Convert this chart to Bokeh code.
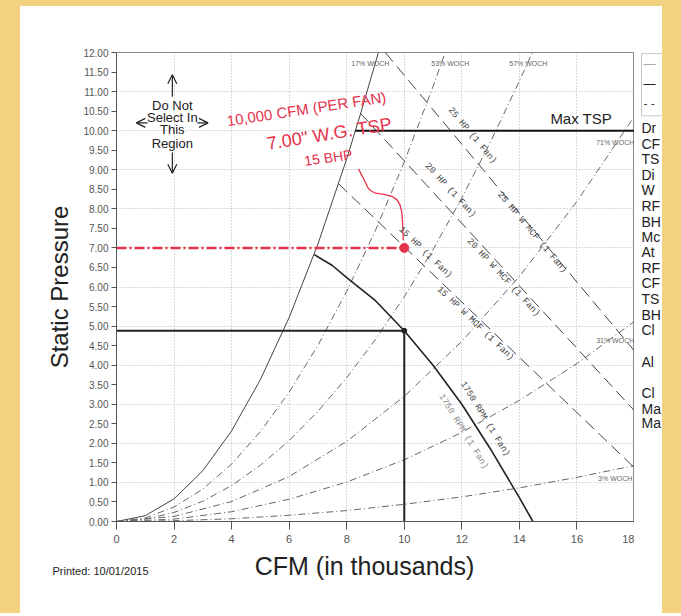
from bokeh.plotting import figure
from bokeh.models import (Range1d, FixedTicker, NumeralTickFormatter, Label, Arrow,
                          OpenHead, BoxAnnotation)
from bokeh.layouts import column, row
from bokeh.embed import file_html
from bokeh.resources import INLINE

# ---------------- data ----------------
x_ticks = [0, 2, 4, 6, 8, 10, 12, 14, 16, 18]
y_ticks = [0.0, 0.5, 1.0, 1.5, 2.0, 2.5, 3.0, 3.5, 4.0, 4.5, 5.0, 5.5, 6.0,
           6.5, 7.0, 7.5, 8.0, 8.5, 9.0, 9.5, 10.0, 10.5, 11.0, 11.5, 12.0]
x_grid = [2, 4, 6, 8, 10, 12, 14, 16]
y_grid = [1, 2, 3, 4, 5, 6, 7, 8, 9, 10, 11]

# system curves (through the origin)
sys1_cfm = [0, 1, 2, 3, 4, 5, 6, 7, 8, 8.5, 9.1]
sys1_sp = [0, 0.15, 0.58, 1.30, 2.32, 3.63, 5.22, 7.10, 9.28, 10.48, 12.0]
sys2_cfm = [0, 1, 2, 3, 4, 5, 6, 7, 8, 9, 10, 11, 11.42]
sys2_sp = [0, 0.09, 0.37, 0.83, 1.47, 2.30, 3.31, 4.51, 5.89, 7.45, 9.20, 11.13, 12.0]
sys3_cfm = [0, 1, 2, 3, 4, 5, 6, 7, 8, 9, 10, 11, 12, 13, 14, 14.45]
sys3_sp = [0, 0.06, 0.23, 0.52, 0.92, 1.44, 2.07, 2.82, 3.68, 4.66, 5.75, 6.96,
           8.28, 9.72, 11.27, 12.0]
sys4_cfm = [0, 2, 4, 6, 8, 10, 12, 14, 16, 18]
sys4_sp = [0, 0.13, 0.51, 1.15, 2.05, 3.20, 4.61, 6.27, 8.19, 10.37]
sys5_cfm = [0, 2, 4, 6, 8, 10, 12, 14, 16, 18]
sys5_sp = [0, 0.06, 0.25, 0.57, 1.01, 1.58, 2.28, 3.10, 4.04, 5.12]
sys6_cfm = [0, 2, 4, 6, 8, 10, 12, 14, 16, 18]
sys6_sp = [0, 0.02, 0.07, 0.16, 0.28, 0.44, 0.63, 0.86, 1.13, 1.43]
sys_labels = ["17% WOCH", "53% WOCH", "57% WOCH", "71% WOCH", "31% WOCH", "3% WOCH"]
sys_label_cfm = [8.82, 11.60, 14.31, 17.33, 17.33, 17.33]
sys_label_sp = [11.72, 11.72, 11.72, 9.69, 4.63, 1.10]

# fan curve 1750 RPM
fan_cfm = [6.87, 7.5, 8.0, 9.0, 10.0, 11.0, 12.0, 13.0, 14.0, 14.47]
fan_sp = [6.83, 6.55, 6.24, 5.65, 4.88, 4.00, 3.00, 1.85, 0.61, 0.0]

# brake horsepower lines
hp25_cfm = [9.34, 17.99]
hp25_sp = [12.0, 4.37]
hp20_cfm = [8.47, 17.99]
hp20_sp = [10.45, 2.84]
hp15_cfm = [7.72, 17.99]
hp15_sp = [8.64, 1.38]
hp_labels = ["25 HP (1 Fan)", "20 HP (1 Fan)", "15 HP (1 Fan)",
             "25 HP W MCF (1 Fan)", "20 HP W MCF (1 Fan)", "15 HP W MCF (1 Fan)"]
hp_label_cfm = [12.36, 11.60, 10.73, 14.44, 13.44, 12.47]
hp_label_sp = [9.87, 8.47, 6.88, 7.39, 6.24, 5.06]

# operating / selected points
op_cfm = 10.0
op_sp = 4.88
sel_cfm = 10.0
sel_sp = 7.0
max_tsp = 10.0
max_tsp_from = 8.3

# red hand-drawn squiggle
squig_cfm = [8.41, 8.53, 8.65, 8.73, 8.82, 9.00, 9.29, 9.57, 9.75, 9.86, 9.92, 9.94, 9.96, 9.96]
squig_sp = [9.02, 8.85, 8.68, 8.55, 8.47, 8.40, 8.37, 8.32, 8.23, 8.09, 7.88, 7.62, 7.32, 7.19]

# cut-off legend texts at the right edge of the sheet
side_texts = ["Dr", "CF", "TS", "Di", "W", "RF", "BH", "Mc", "At", "RF", "CF", "TS",
              "BH", "Cl", "Al", "Cl", "Ma", "Ma"]
side_sp = [10.07, 9.67, 9.27, 8.87, 8.47, 8.07, 7.67, 7.29, 6.89, 6.49, 6.09, 5.69,
           5.29, 4.89, 4.07, 3.30, 2.89, 2.51]

narrow = "Liberation Sans Narrow, Liberation Sans, sans-serif"
red = "#E5324B"

# ---------------- main figure ----------------
p = figure(width=614, height=545, output_backend="svg", toolbar_location=None,
           x_range=Range1d(0, 18), y_range=Range1d(0, 12),
           min_border_left=96, min_border_right=0, min_border_top=46,
           min_border_bottom=30)
p.background_fill_color = "white"
p.border_fill_color = "white"
p.outline_line_color = "#8a8a8a"
p.outline_line_width = 1

p.xaxis.ticker = FixedTicker(ticks=x_ticks)
p.yaxis.ticker = FixedTicker(ticks=y_ticks)
p.yaxis.formatter = NumeralTickFormatter(format="0.00")
for ax in (p.xaxis[0], p.yaxis[0]):
    ax.axis_line_color = "#555555"
    ax.major_tick_line_color = "#555555"
    ax.minor_tick_line_color = None
    ax.major_tick_in = 0
    ax.major_label_text_font = narrow
    ax.major_label_text_color = "#555555"
    ax.axis_label_text_font = "Liberation Sans"
    ax.axis_label_text_font_style = "normal"
    ax.axis_label_text_font_size = "24px"
    ax.axis_label_text_color = "#222222"
p.xaxis.major_tick_out = 8
p.xaxis.major_label_text_font_size = "11px"
p.xaxis.major_label_standoff = 5
p.yaxis.major_tick_out = 5
p.yaxis.major_label_text_font_size = "10px"
p.yaxis.major_label_standoff = 3
p.yaxis.axis_label = "Static Pressure"
p.yaxis.axis_label_standoff = 7

p.xgrid.ticker = FixedTicker(ticks=x_grid)
p.ygrid.ticker = FixedTicker(ticks=y_grid)
for g in (p.xgrid[0], p.ygrid[0]):
    g.grid_line_color = "#b5b5b5"
    g.grid_line_dash = "1 2"
    g.grid_line_width = 1

# system curves
p.line(sys1_cfm, sys1_sp, line_color="#444444", line_width=1)
for xs, ys in [(sys2_cfm, sys2_sp), (sys3_cfm, sys3_sp), (sys4_cfm, sys4_sp),
               (sys5_cfm, sys5_sp), (sys6_cfm, sys6_sp)]:
    p.line(xs, ys, line_color="#666666", line_width=1, line_dash="7 3 1 3")

# HP lines
for xs, ys in [(hp25_cfm, hp25_sp), (hp20_cfm, hp20_sp), (hp15_cfm, hp15_sp)]:
    p.line(xs, ys, line_color="#444444", line_width=1, line_dash="12 6")

# fan curve
p.line(fan_cfm, fan_sp, line_color="#222222", line_width=1.6)

# max TSP
p.line([max_tsp_from, 18], [max_tsp, max_tsp], line_color="#111111", line_width=2)

# operating point lines
p.line([0, op_cfm], [op_sp, op_sp], line_color="#222222", line_width=2)
p.line([op_cfm, op_cfm], [0, op_sp], line_color="#222222", line_width=2)
p.scatter([op_cfm], [op_sp], size=5, color="#222222")

# red selection
p.line([0, sel_cfm], [sel_sp, sel_sp], line_color=red, line_width=2.5, line_dash="10 3 2 3")
p.scatter([sel_cfm], [sel_sp], size=9, color=red)
p.line(squig_cfm, squig_sp, line_color=red, line_width=1.3)


def add_text(fig, x, y, text, size, color="#333333", font="Liberation Sans", angle=0.0,
             align="center", baseline="middle"):
    fig.add_layout(Label(x=x, y=y, text=text, text_font_size=f"{size}px",
                         text_color=color, text_font=font, angle=angle,
                         text_align=align, text_baseline=baseline))


for t, x, y in zip(sys_labels, sys_label_cfm, sys_label_sp):
    add_text(p, x, y, t, 7, color="#666666", font=narrow)

hp_angles = [-0.874, -0.826, -0.765, -0.874, -0.826, -0.765]
for t, x, y, a in zip(hp_labels, hp_label_cfm, hp_label_sp, hp_angles):
    add_text(p, x, y, t, 9, color="#444444", font="Liberation Mono", angle=a)

add_text(p, 12.80, 2.62, "1750 RPM (1 Fan)", 9, color="#444444", font="Liberation Mono",
         angle=-1.018)
add_text(p, 12.05, 2.30, "1750 RPM (1 Fan)", 9, color="#8a8a8a", font="Liberation Mono",
         angle=-1.018)

add_text(p, 17.22, 10.1, "Max TSP", 15, color="#222222", align="right", baseline="bottom")

for t, y in zip(["Do Not", "Select In", "This", "Region"], [10.64, 10.33, 10.02, 9.67]):
    add_text(p, 1.94, y, t, 13, color="#222222")
arrow_kw = dict(line_color="#222222", line_width=1.2)
for xs, ys, xe, ye in [(1.94, 10.87, 1.94, 11.43), (1.94, 9.44, 1.94, 8.91),
                       (1.08, 10.2, 0.69, 10.2), (2.81, 10.2, 3.18, 10.2)]:
    p.add_layout(Arrow(end=OpenHead(size=9, line_color="#222222", line_width=1.2),
                       x_start=xs, y_start=ys, x_end=xe, y_end=ye, **arrow_kw))

# handwritten notes
add_text(p, 6.60, 10.56, "10,000 CFM (PER FAN)", 15, color=red, font=narrow, angle=0.15)
add_text(p, 7.40, 9.92, "7.00\" W.G. TSP", 18, color=red, font=narrow, angle=0.16)
add_text(p, 7.36, 9.31, "15 BHP", 14, color=red, font=narrow, angle=0.14)

# ---------------- right strip (edge of the printed sheet) ----------------
side = figure(width=28, height=545, output_backend="svg", toolbar_location=None,
              x_range=Range1d(0, 28), y_range=p.y_range, x_axis_type=None,
              y_axis_type=None, min_border=0, min_border_top=46, min_border_bottom=30)
side.outline_line_color = None
side.background_fill_color = "white"
side.border_fill_color = "white"
side.add_layout(BoxAnnotation(left=7, right=60, top=11.97, bottom=10.38,
                              fill_alpha=0, line_color="#444444", line_width=1))
add_text(side, 9, 11.71, "\u2014", 12, color="#aaaaaa", align="left")
add_text(side, 9, 11.20, "\u2014", 12, color="#222222", align="left")
add_text(side, 9, 10.69, "- -", 12, color="#444444", align="left")
for t, y in zip(side_texts, side_sp):
    add_text(side, 7, y, t, 14, color="#222222", align="left")

# ---------------- bottom strip: x-axis title and print date ----------------
bottom = figure(width=642, height=62, output_backend="svg", toolbar_location=None,
                x_range=Range1d(0, 642), y_range=Range1d(0, 62), x_axis_type=None,
                y_axis_type=None, min_border=0)
bottom.outline_line_color = None
bottom.background_fill_color = "white"
bottom.border_fill_color = "white"
add_text(bottom, 344, 48, "CFM (in thousands)", 25, color="#222222")
add_text(bottom, 32, 43, "Printed: 10/01/2015", 11, color="#222222", align="left")

page = column(row(p, side), bottom,
              styles={"background-color": "white",
                      "border-style": "solid",
                      "border-color": "#F2D27E",
                      "border-width": "6px 19px 0px 20px"})

open("out.html", "w").write(file_html(page, INLINE))
